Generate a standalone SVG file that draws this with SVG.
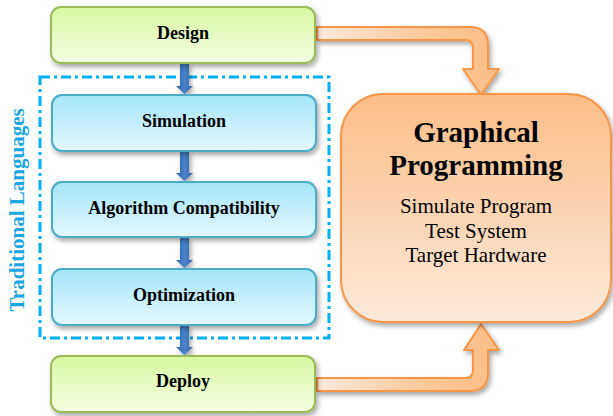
<svg xmlns="http://www.w3.org/2000/svg" width="613" height="416" viewBox="0 0 613 416">
<defs>
<linearGradient id="gGreen" x1="0" y1="0" x2="0" y2="1"><stop offset="0" stop-color="#d8f8a0"/><stop offset="1" stop-color="#f3fde2"/></linearGradient>
<linearGradient id="gBlue" x1="0" y1="0" x2="0" y2="1"><stop offset="0" stop-color="#a3e6fb"/><stop offset="1" stop-color="#e5f7fd"/></linearGradient>
<linearGradient id="gOrange" x1="0" y1="0" x2="0" y2="1"><stop offset="0" stop-color="#fbbd86"/><stop offset="1" stop-color="#fdeadb"/></linearGradient>
<linearGradient id="gArrow" gradientUnits="userSpaceOnUse" x1="317" y1="0" x2="499" y2="0"><stop offset="0" stop-color="#fdeadb"/><stop offset="0.6" stop-color="#fcc898"/><stop offset="1" stop-color="#fbbd86"/></linearGradient>
<linearGradient id="gDown" x1="0" y1="0" x2="1" y2="0"><stop offset="0" stop-color="#2f64ae"/><stop offset="0.5" stop-color="#4a82c8"/><stop offset="1" stop-color="#2f64ae"/></linearGradient>
<filter id="sh" x="-10%" y="-10%" width="130%" height="140%"><feDropShadow dx="2" dy="3" stdDeviation="2.5" flood-color="#000" flood-opacity="0.35"/></filter>
</defs>
<style>
.green{fill:url(#gGreen);stroke:#9bbb59;stroke-width:2}
.blue{fill:url(#gBlue);stroke:#4bacc6;stroke-width:2}
.lbl{font-family:"Liberation Serif",serif;font-weight:bold;font-size:18px;fill:#000;text-anchor:middle}
.oarrow{fill:url(#gArrow);stroke:#f79646;stroke-width:2;stroke-linejoin:round}
.barrow{fill:url(#gDown)}
.big{font-family:"Liberation Serif",serif;font-weight:bold;font-size:29px;text-anchor:middle;fill:#000}
.sub{font-family:"Liberation Serif",serif;font-size:21px;text-anchor:middle;fill:#000}
</style>
<g id="traditional-group">
<rect x="40" y="77" width="289" height="261" fill="none" stroke="#00b0f0" stroke-width="3" stroke-dasharray="10 4 3 4"/>
<text transform="translate(24,210) rotate(-90)" font-family="Liberation Serif, serif" font-weight="bold" font-size="21" fill="#1aa6e0" text-anchor="middle">Traditional Languages</text>
</g>
<g id="connectors">
<path class="barrow" filter="url(#sh)" d="M180,63 H189 V86 H193 L184.5,94 L176,86 H180 Z"/>
<path class="barrow" filter="url(#sh)" d="M180,151 H189 V173 H193 L184.5,181 L176,173 H180 Z"/>
<path class="barrow" filter="url(#sh)" d="M180,237 H189 V260 H193 L184.5,268 L176,260 H180 Z"/>
<path class="barrow" filter="url(#sh)" d="M180,325 H189 V347 H193 L184.5,355 L176,347 H180 Z"/>
<path class="oarrow" filter="url(#sh)" d="M317,27 H470 Q488,27 488,45 V69 H499 L481,95 L463,69 H473 V48 Q473,40 465,40 H317 Z"/>
<path class="oarrow" filter="url(#sh)" d="M317,378 H465 Q473,378 473,370 V350 H464 L481,324 L499,350 H488 V373 Q488,391 470,391 H317 Z"/>
</g>
<g id="design">
<rect class="green" filter="url(#sh)" x="51" y="7" width="264" height="56" rx="10"/>
<text class="lbl" x="183" y="39">Design</text>
</g>
<g id="simulation">
<rect class="blue" filter="url(#sh)" x="52" y="95" width="264" height="56" rx="10"/>
<text class="lbl" x="184" y="127">Simulation</text>
</g>
<g id="algorithm">
<rect class="blue" filter="url(#sh)" x="52" y="182" width="264" height="55" rx="10"/>
<text class="lbl" x="184" y="214">Algorithm Compatibility</text>
</g>
<g id="optimization">
<rect class="blue" filter="url(#sh)" x="52" y="269" width="264" height="56" rx="10"/>
<text class="lbl" x="184" y="301">Optimization</text>
</g>
<g id="deploy">
<rect class="green" filter="url(#sh)" x="51" y="356" width="264" height="56" rx="10"/>
<text class="lbl" x="183" y="387">Deploy</text>
</g>
<g id="graphical">
<rect filter="url(#sh)" x="341" y="94" width="270" height="228" rx="42" fill="url(#gOrange)" stroke="#f79646" stroke-width="2"/>
<text class="big" x="476" y="142">Graphical</text>
<text class="big" x="476" y="175">Programming</text>
<text class="sub" x="476" y="213">Simulate Program</text>
<text class="sub" x="476" y="238">Test System</text>
<text class="sub" x="476" y="262">Target Hardware</text>
</g>
</svg>
